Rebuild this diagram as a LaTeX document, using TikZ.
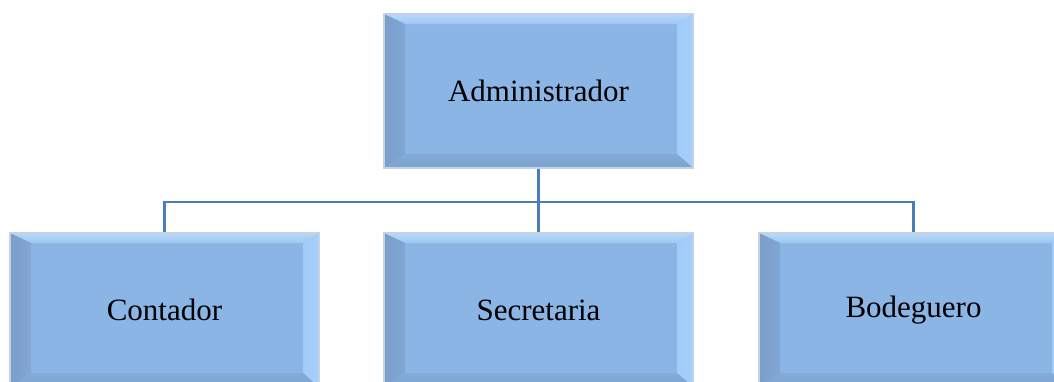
\documentclass[tikz,border=0pt]{standalone}
\usepackage{fontspec}
\setmainfont{Liberation Serif}
\usetikzlibrary{calc}
\definecolor{facemid}{HTML}{8BB5E5}
\definecolor{bevtop}{HTML}{9DC6F3}
\definecolor{bevleft}{HTML}{7B9DC9}
\definecolor{bevright}{HTML}{A6D0FB}
\definecolor{bevbottom}{HTML}{7EA3D0}
\definecolor{boxedge}{HTML}{C3D3E6}
\definecolor{linkblue}{HTML}{4A7EBB}
\tikzset{
  bevelbox/.style={
    rectangle, minimum width=309pt, minimum height=154pt, inner sep=0pt,
    fill=facemid, draw=boxedge, line width=1.5pt,
    font=\fontsize{31}{36}\selectfont,
    path picture={
      \coordinate (pnw) at (path picture bounding box.north west);
      \coordinate (pne) at (path picture bounding box.north east);
      \coordinate (psw) at (path picture bounding box.south west);
      \coordinate (pse) at (path picture bounding box.south east);
      \coordinate (inw) at ($(pnw)+(21pt,-10pt)$);
      \coordinate (ine) at ($(pne)+(-16pt,-10pt)$);
      \coordinate (isw) at ($(psw)+(21pt,14pt)$);
      \coordinate (ise) at ($(pse)+(-16pt,14pt)$);
      \shade[top color=bevtop!70!white, bottom color=bevtop]
        (pnw) -- (pne) -- (ine) -- (inw) -- cycle;
      \shade[left color=bevleft, right color=bevleft!60!facemid]
        (pnw) -- (inw) -- (isw) -- (psw) -- cycle;
      \shade[left color=bevright!85!facemid, right color=bevright]
        (pne) -- (ine) -- (ise) -- (pse) -- cycle;
      \shade[top color=bevbottom!60!facemid, bottom color=bevbottom]
        (psw) -- (isw) -- (ise) -- (pse) -- cycle;
    }
  },
  link/.style={draw=linkblue, line width=2.4pt}
}
\begin{document}
\begin{tikzpicture}[x=1pt,y=-1pt]
  \useasboundingbox (0,0) rectangle (1054,381);
  \clip (0,0) rectangle (1054,381);
  \fill[white] (0,0) rectangle (1054,381);
  % junction of the tree connectors
  \coordinate (bus) at (538.5,202);
  \node[bevelbox] (admin) at (538.5,91) {Administrador};
  \node[bevelbox] (cont) at (164.5,310) {Contador};
  \node[bevelbox] (sec) at (538.5,310) {Secretaria};
  \node[bevelbox] (bod) at (913.5,310) {Bodeguero};
  \draw[link] (admin.south) -- (sec.north);
  \draw[link] (cont.north) |- (bus) -| (bod.north);
\end{tikzpicture}
\end{document}
